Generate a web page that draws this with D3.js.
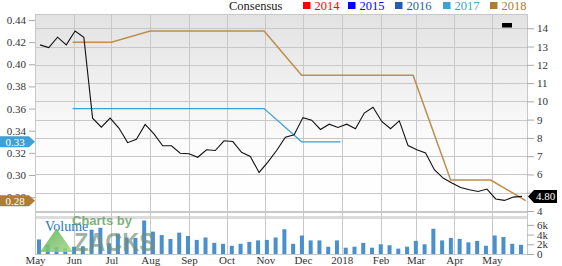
<!DOCTYPE html>
<html>
<head>
<meta charset="utf-8">
<script src="https://cdn.jsdelivr.net/npm/d3@7/dist/d3.min.js"></script>
<style>
  body { margin: 0; background: #fff; }
  svg text { font-family: "Liberation Serif", serif; }
</style>
</head>
<body>
<script>
// weekly closing dates (Fridays)
var weeks = ["2017-05-05","2017-05-12","2017-05-19","2017-05-26","2017-06-02","2017-06-09","2017-06-16","2017-06-23","2017-06-30",
  "2017-07-07","2017-07-14","2017-07-21","2017-07-28","2017-08-04","2017-08-11","2017-08-18","2017-08-25","2017-09-01",
  "2017-09-08","2017-09-15","2017-09-22","2017-09-29","2017-10-06","2017-10-13","2017-10-20","2017-10-27","2017-11-03",
  "2017-11-10","2017-11-17","2017-11-24","2017-12-01","2017-12-08","2017-12-15","2017-12-22","2017-12-29","2018-01-05",
  "2018-01-12","2018-01-19","2018-01-26","2018-02-02","2018-02-09","2018-02-16","2018-02-23","2018-03-02","2018-03-09",
  "2018-03-16","2018-03-23","2018-03-30","2018-04-06","2018-04-13","2018-04-20","2018-04-27","2018-05-04","2018-05-11",
  "2018-05-18","2018-05-25"];

// price (right axis)
var price = [13.09,12.94,13.51,13.09,13.85,13.51,9.08,8.59,9.08,8.54,7.74,7.92,8.74,8.22,7.57,7.57,7.16,7.13,
  6.94,7.35,7.31,7.84,7.80,7.21,6.98,6.11,6.67,7.31,8.04,8.17,9.11,8.97,8.46,8.75,8.57,8.75,
  8.50,9.36,9.68,8.90,8.50,8.93,7.58,7.35,7.17,6.26,5.80,5.53,5.29,5.16,5.07,5.20,4.66,4.58,
  4.76,4.80];

// weekly volume in thousands
var volume = [3.0,1.9,1.4,1.2,1.5,1.6,5.0,5.4,2.2,4.2,3.4,3.3,6.9,4.6,3.9,3.1,4.4,3.7,
  2.9,3.4,2.3,2.1,1.7,2.1,2.5,2.8,2.9,3.4,5.1,2.1,3.8,2.8,2.8,1.5,2.8,1.3,
  1.5,2.3,1.3,2.0,1.8,1.1,1.5,2.7,2.0,5.2,2.8,3.3,3.1,2.4,2.7,1.7,3.8,3.5,
  2.1,1.9];

// consensus EPS estimates (left axis)
var dates2018 = ["2017-05-31","2017-07-01","2017-08-01","2017-10-31","2017-11-30","2018-02-27","2018-03-29","2018-04-30","2018-05-28"];
var cons2018 = [0.42,0.42,0.43,0.43,0.39,0.39,0.2955,0.2955,0.2768];
var dates2017 = ["2017-05-31","2017-10-31","2017-11-30","2017-12-31"];
var cons2017 = [0.36,0.36,0.33,0.33];

var leftTicks = [0.28,0.30,0.32,0.34,0.36,0.38,0.40,0.42,0.44];
var rightTicks = [4,5,6,7,8,9,10,11,12,13,14];
var volTicks = [0,2,4,6];
var legendYears = ["2014","2015","2016","2017","2018"];
var legendColors = ["#ff0000","#0000ff","#1f5fb2","#3ea0d4","#b07d2e"];
var legendX = [303,348,395,443,490];

var parse = d3.timeParse("%Y-%m-%d");
var L = 35, R = 527, T = 14, B = 212, VT = 220, VB = 254;

var svg = d3.select("body").append("svg").attr("width", 562).attr("height", 266);

var x = d3.scaleTime().domain([new Date(2017,4,1), new Date(2018,4,29)]).range([L, R]);
var yL = d3.scaleLinear().domain([0.2666, 0.4454]).range([B, T]);
var yR = d3.scaleLinear().domain([3.945, 14.78]).range([B, T]);
var yV = d3.scaleLinear().domain([0, 7]).range([VB, VT]);

var months = d3.timeMonth.range(new Date(2017,4,1), new Date(2018,5,1));

// background gradient
var grad = svg.append("defs").append("linearGradient").attr("id","bg").attr("x1",0).attr("y1",0).attr("x2",0).attr("y2",1);
grad.append("stop").attr("offset","0%").attr("stop-color","#e2e2e2");
grad.append("stop").attr("offset","65%").attr("stop-color","#fcfcfc");
grad.append("stop").attr("offset","100%").attr("stop-color","#ffffff");
svg.append("rect").attr("x",L).attr("y",T).attr("width",R-L).attr("height",B-T).attr("fill","url(#bg)");

// separator band
svg.append("rect").attr("x",L).attr("y",216).attr("width",R-L).attr("height",3).attr("fill","#dcdcdc");

var grid = svg.append("g").attr("stroke","#c8c8c8").attr("shape-rendering","crispEdges");
grid.selectAll("line.h").data(rightTicks).enter().append("line")
  .attr("x1",L).attr("x2",R).attr("y1",function(d){ return Math.round(yR(d))+0.5; }).attr("y2",function(d){ return Math.round(yR(d))+0.5; });
grid.selectAll("line.v").data(months).enter().append("line")
  .attr("x1",function(d){ return Math.round(x(d))+0.5; }).attr("x2",function(d){ return Math.round(x(d))+0.5; })
  .attr("y1",T).attr("y2",VB);
grid.append("line").attr("x1",L).attr("x2",R).attr("y1",T+0.5).attr("y2",T+0.5);
grid.append("line").attr("x1",L).attr("x2",R).attr("y1",B+0.5).attr("y2",B+0.5);
grid.append("line").attr("x1",R+0.5).attr("x2",R+0.5).attr("y1",T).attr("y2",VB);
grid.append("line").attr("x1",L).attr("x2",R).attr("y1",VB+0.5).attr("y2",VB+0.5);

// volume bars
svg.append("g").selectAll("rect").data(volume).enter().append("rect")
  .attr("x",function(d,i){ return x(parse(weeks[i])) - 3; })
  .attr("width",4)
  .attr("y",function(d){ return yV(d); })
  .attr("height",function(d){ return VB - yV(d); })
  .attr("fill","#4a8fce");

// Volume label + watermark
svg.append("text").attr("x",45).attr("y",231).attr("font-size",14).attr("fill","#2a78c0").text("Volume");
var tg = svg.append("linearGradient").attr("id","tri").attr("x1",0).attr("y1",0).attr("x2",1).attr("y2",1);
tg.append("stop").attr("offset","0%").attr("stop-color","#4cae4c");
tg.append("stop").attr("offset","100%").attr("stop-color","#a6d88a");
svg.append("path").attr("d","M40,252 L56.5,228.5 L73,252 Z").attr("fill","url(#tri)").attr("opacity",0.85);
svg.append("text").attr("x",72).attr("y",225).attr("font-size",13).attr("font-weight","bold")
  .style("font-family","'Liberation Sans', sans-serif").attr("fill","#5f9f5f").attr("opacity",0.8).text("Charts by");
svg.append("text").attr("x",74).attr("y",251).attr("font-size",26).attr("font-weight","bold")
  .attr("textLength",81).attr("lengthAdjust","spacingAndGlyphs")
  .style("font-family","'Liberation Sans', sans-serif").attr("fill","#6f8f78").attr("opacity",0.65).text("ZACKS");

// consensus lines
var lineL = d3.line().x(function(d){ return x(d[0]); }).y(function(d){ return yL(d[1]); });
svg.append("path").datum(dates2017.map(function(d,i){ return [parse(d), cons2017[i]]; }))
  .attr("d",lineL).attr("fill","none").attr("stroke","#3ea0d4").attr("stroke-width",1.2);
svg.append("path").datum(dates2018.map(function(d,i){ return [parse(d), cons2018[i]]; }))
  .attr("d",lineL).attr("fill","none").attr("stroke","#bf8d4c").attr("stroke-width",1.5);

// price line
var lineR = d3.line().x(function(d,i){ return x(parse(weeks[i])); }).y(function(d){ return yR(d); });
svg.append("path").datum(price).attr("d",lineR).attr("fill","none").attr("stroke","#111").attr("stroke-width",1.1);

// axes
function styleAxis(g) {
  g.select(".domain").remove();
  g.selectAll("line").attr("stroke","#aaa");
  g.selectAll("text").attr("font-size",11).attr("fill","#333").style("font-family","'Liberation Serif', serif");
}
svg.append("g").attr("transform","translate("+L+",0)")
  .call(d3.axisLeft(yL).tickValues(leftTicks).tickFormat(d3.format(".2f")).tickSize(6).tickPadding(3)).call(styleAxis);
svg.append("g").attr("transform","translate("+R+",0)")
  .call(d3.axisRight(yR).tickValues(rightTicks).tickSize(7).tickPadding(3)).call(styleAxis);
svg.append("g").attr("transform","translate("+R+",0)")
  .call(d3.axisRight(yV).tickValues(volTicks).tickFormat(function(d){ return d ? d + "k" : "0"; }).tickSize(7).tickPadding(3)).call(styleAxis);
svg.append("g").attr("transform","translate(0,"+VB+")")
  .call(d3.axisBottom(x).tickValues(months).tickSize(0).tickPadding(2)
    .tickFormat(function(d){ return d.getMonth() === 0 ? d3.timeFormat("%Y")(d) : d3.timeFormat("%b")(d); }))
  .call(styleAxis);

// value flags
function flagLeft(v, color) {
  var yy = yL(v);
  svg.append("path").attr("d","M0,"+(yy-5.5)+" L29,"+(yy-5.5)+" L35,"+yy+" L29,"+(yy+5.5)+" L0,"+(yy+5.5)+" Z").attr("fill",color);
  svg.append("text").attr("x",15).attr("y",yy+4).attr("text-anchor","middle").attr("font-size",11).attr("fill","#fff").text(d3.format(".2f")(v));
}
flagLeft(cons2017[cons2017.length-1], "#3ea0d4");
flagLeft(cons2018[cons2018.length-1], "#b07d2e");

var lastP = price[price.length-1], py = yR(lastP);
svg.append("path").attr("d","M528,"+py+" L534,"+(py-6.5)+" L557,"+(py-6.5)+" L557,"+(py+6.5)+" L534,"+(py+6.5)+" Z").attr("fill","#000");
svg.append("text").attr("x",545.5).attr("y",py+4).attr("text-anchor","middle").attr("font-size",11).attr("fill","#fff").text(d3.format(".2f")(lastP));

// small black marker top right
svg.append("rect").attr("x",502).attr("y",23).attr("width",10).attr("height",4.5).attr("fill","#000");

// legend
svg.append("text").attr("x",229).attr("y",10).attr("font-size",12.5).attr("fill","#222").text("Consensus");
var lg = svg.append("g").selectAll("g").data(legendYears).enter().append("g");
lg.append("rect").attr("x",function(d,i){ return legendX[i]; }).attr("y",2).attr("width",7.5).attr("height",7)
  .attr("fill",function(d,i){ return legendColors[i]; });
lg.append("text").attr("x",function(d,i){ return legendX[i] + 11.5; }).attr("y",10).attr("font-size",12.5)
  .attr("fill",function(d,i){ return legendColors[i]; }).text(function(d){ return d; });
</script>
</body>
</html>
